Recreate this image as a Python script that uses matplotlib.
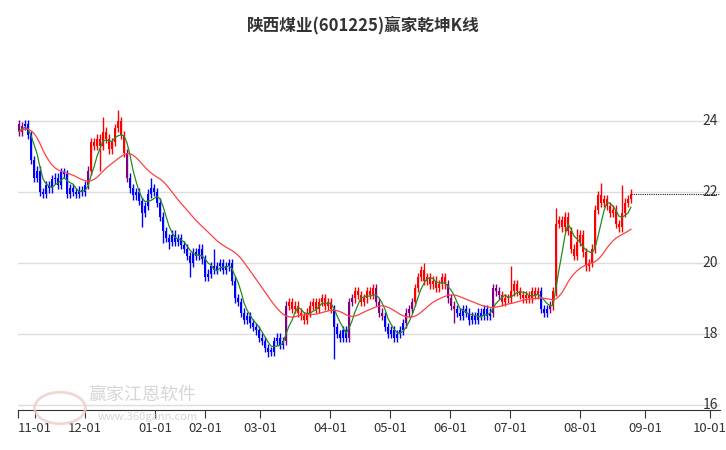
import numpy as np
import pandas as pd
import matplotlib
matplotlib.use("Agg")
import matplotlib.pyplot as plt

plt.rcParams['font.family'] = ['Noto Sans CJK SC', 'DejaVu Sans']

# ── Data ──────────────────────────────────────────────────────────────────────
first_open = 23.9
closes = [
    23.70, 23.85, 23.90, 23.60, 22.90, 22.40, 22.60, 22.00, 21.95, 22.20,
    22.10, 22.35, 22.40, 22.20, 22.55, 22.50, 21.95, 22.10, 22.00, 21.95,
    22.05, 22.00, 22.20, 22.60, 23.40, 23.30, 23.50, 23.30, 23.70, 23.50,
    23.20, 23.40, 23.80, 24.00, 23.60, 23.10, 22.40, 22.10, 21.90, 22.00,
    21.75, 21.40, 21.60, 21.95, 22.10, 22.00, 21.70, 21.30, 20.90, 20.70,
    20.60, 20.80, 20.60, 20.70, 20.50, 20.40, 20.20, 20.00, 20.30, 20.20,
    20.40, 20.10, 19.60, 19.70, 19.90, 19.80, 19.90, 20.00, 19.80, 19.90,
    20.00, 19.50, 19.00, 18.90, 18.60, 18.40, 18.50, 18.30, 18.20, 18.10,
    17.90, 17.80, 17.60, 17.50, 17.50, 17.80, 17.90, 17.70, 17.80, 18.80,
    18.90, 18.70, 18.80, 18.60, 18.50, 18.40, 18.60, 18.80, 18.90, 18.70,
    18.90, 19.00, 18.80, 18.90, 18.70, 18.20, 18.00, 17.90, 18.10, 17.90,
    18.90, 19.00, 19.20, 19.10, 18.90, 19.00, 19.20, 19.10, 19.30, 18.90,
    18.60, 18.50, 18.20, 18.00, 18.10, 17.90, 18.00, 18.10, 18.30, 18.60,
    18.70, 18.90, 19.30, 19.60, 19.80, 19.50, 19.60, 19.40, 19.50, 19.30,
    19.40, 19.60, 19.40, 19.00, 18.80, 18.70, 18.60, 18.50, 18.70, 18.60,
    18.40, 18.50, 18.40, 18.60, 18.50, 18.70, 18.50, 18.60, 19.30, 19.20,
    19.10, 18.90, 19.00, 19.00, 19.20, 19.40, 19.20, 19.10, 19.00, 19.10,
    19.00, 19.20, 19.10, 19.20, 18.70, 18.60, 18.70, 18.80, 19.20, 21.10,
    21.20, 21.00, 21.30, 20.90, 20.40, 20.20, 20.60, 20.80, 20.30, 19.90,
    20.00, 20.40, 21.50, 21.90, 21.70, 21.80, 21.60, 21.40, 21.50, 21.10,
    21.00, 21.40, 21.70, 21.80, 21.95,
]
# long wicks that stand out (index: price)
highs_special = {33: 24.30, 44: 22.40, 65: 20.40, 135: 20.00, 164: 19.90,
                 179: 21.55, 186: 20.95, 194: 22.25, 201: 22.20, 28: 24.1}
lows_special = {27: 22.60, 41: 21.00, 48: 20.55, 50: 20.40, 57: 19.60,
                105: 17.30, 83: 17.35, 145: 18.30, 150: 18.25}
wick = 0.12

# signal state per candle: r = strong, b = weak, p = turning
state_runs = [('p', 2), ('b', 21), ('p', 1), ('r', 12), ('p', 1), ('b', 52),
              ('p', 1), ('r', 15), ('b', 5), ('p', 2), ('r', 7), ('p', 3),
              ('b', 7), ('p', 3), ('r', 11), ('p', 3), ('b', 12), ('p', 3),
              ('r', 13), ('b', 3), ('p', 1), ('r', 27)]

tick_pos = [5.3, 22, 45.3, 62, 80.3, 103.7, 123.7, 143.7, 163.7, 187, 208.7, 230.3]
tick_lbl = ['11-01', '12-01', '01-01', '02-01', '03-01', '04-01', '05-01',
            '06-01', '07-01', '08-01', '09-01', '10-01']
y_ticks = [16, 18, 20, 22, 24]

# ── Build OHLC ────────────────────────────────────────────────────────────────
n = len(closes)
opens = [first_open] + closes[:-1]
highs = [highs_special.get(i, max(o, c) + wick) for i, (o, c) in enumerate(zip(opens, closes))]
lows = [lows_special.get(i, min(o, c) - wick) for i, (o, c) in enumerate(zip(opens, closes))]
states = ''.join(s * k for s, k in state_runs)
cmap = {'r': '#ff0000', 'b': '#0000ff', 'p': '#800080'}

x = np.arange(n)
s = pd.Series(closes)
ma_short = s.rolling(5, min_periods=1).mean()
ma_long = s.ewm(span=22).mean().rolling(5, min_periods=1).mean()

# ── Figure ────────────────────────────────────────────────────────────────────
fig = plt.figure(figsize=(7.26, 4.5), dpi=100)
ax = fig.add_axes([18 / 726, 1 - 410 / 450, 702 / 726, 330 / 450])
ax.set_xlim(-0.33, 233.7)
ax.set_ylim(15.86, 25.15)

for yt in y_ticks:
    ax.axhline(yt, color='#dddddd', lw=1, zorder=0)
    ax.text(0.997, yt, str(yt), transform=ax.get_yaxis_transform(),
            ha='right', va='center', fontsize=10, color='#333333')

for i in range(n):
    col = cmap[states[i]]
    ax.vlines(i, lows[i], highs[i], color=col, lw=1, zorder=2)
    bot = min(opens[i], closes[i])
    h = max(abs(closes[i] - opens[i]), 0.04)
    ax.bar(i, h, bottom=bot, width=0.75, color=col, lw=0, zorder=3)

ax.plot(x, ma_short, color='#228b22', lw=0.9, zorder=4)
ax.plot(x, ma_long, color='#ff4040', lw=0.9, zorder=4)
ax.plot([n - 1, 233.7], [closes[-1], closes[-1]], color='#222222', lw=0.8,
        ls=(0, (1, 1)), zorder=4)

for sp in ['top', 'right', 'left']:
    ax.spines[sp].set_visible(False)
ax.spines['bottom'].set_color('#333333')
ax.set_yticks([])
ax.set_xticks([-0.33] + tick_pos)
ax.set_xticklabels([''] + tick_lbl, fontsize=9.5, color='#333333')
ax.tick_params(axis='x', length=6, color='#333333', pad=3)

fig.text(0.5, 1 - 25 / 450, '陕西煤业(601225)赢家乾坤K线', ha='center', va='center',
         fontsize=12, fontweight='bold', color='#333333')

# watermark
fig.text(88 / 726, 1 - 400 / 450, '赢家江恩软件', fontsize=13, color='#cccccc', alpha=0.8)
fig.text(98 / 726, 1 - 420 / 450, 'www.360gann.com', fontsize=8, color='#cccccc', alpha=0.8)
fig.patches.append(plt.Circle((60 / 726, 1 - 408 / 450), 0.035, transform=fig.transFigure,
                              fill=False, ec='#eecccc', lw=2, alpha=0.8))

fig.savefig('out.png', dpi=100)
